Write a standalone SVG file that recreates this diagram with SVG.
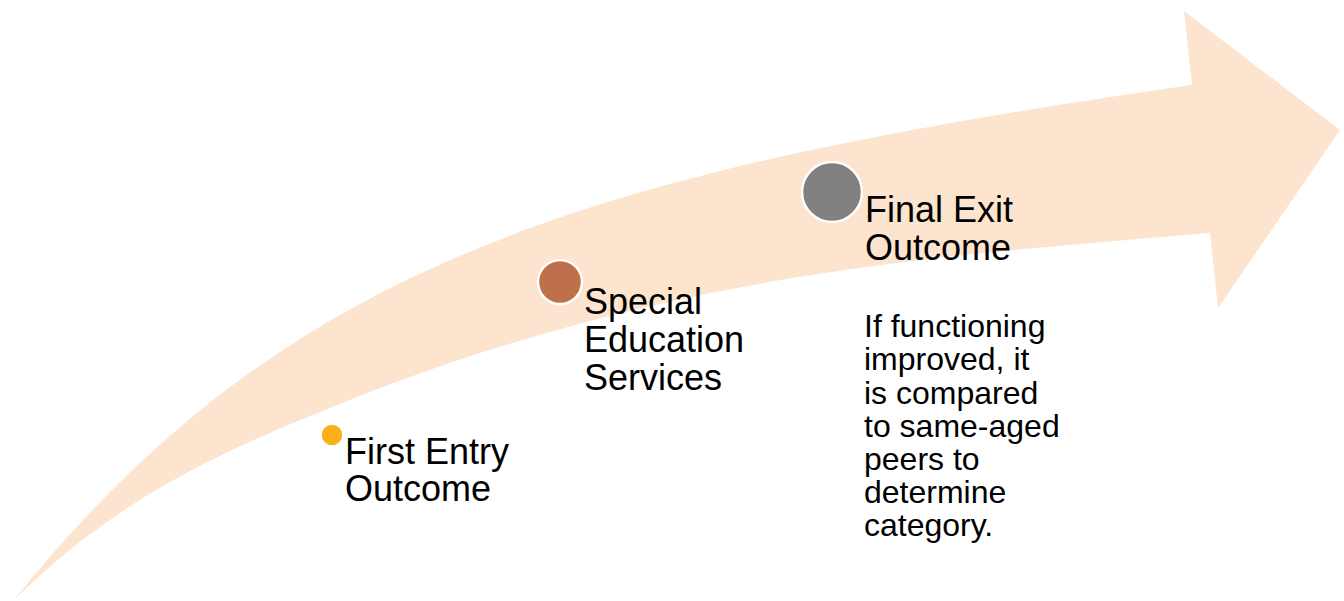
<svg xmlns="http://www.w3.org/2000/svg" width="1344" height="601" viewBox="0 0 1344 601">
  <style>
    .band { fill: #FCE4CE; }
    .dot { stroke: #FFFFFF; stroke-width: 2.5; }
    .label { font-family: "Liberation Sans", Arial, sans-serif; font-size: 36px; fill: #000000; }
    .note { font-family: "Liberation Sans", Arial, sans-serif; font-size: 32px; fill: #000000; }
  </style>
  <rect width="1344" height="601" fill="#FFFFFF"/>

  <!-- curved progress arrow -->
  <g id="connectors">
    <path class="band" d="M13,601
      C283,265 580,172.5 1192,85
      L1184,11 L1340,130 L1218,308 L1210,233
      C960,255 680,268 350,400
      C240,444 123.5,490.5 13,601 Z"/>
  </g>

  <g id="first-entry">
    <circle class="dot" cx="332" cy="435" r="11.5" fill="#FBB01B"/>
    <text class="label">
      <tspan x="345" y="464">First Entry</tspan>
      <tspan x="345" y="501">Outcome</tspan>
    </text>
  </g>

  <g id="special-education">
    <circle class="dot" cx="560" cy="282" r="22" fill="#BF704A"/>
    <text class="label">
      <tspan x="584" y="314">Special</tspan>
      <tspan x="584" y="352">Education</tspan>
      <tspan x="584" y="390">Services</tspan>
    </text>
  </g>

  <g id="final-exit">
    <circle class="dot" cx="832" cy="192" r="30" fill="#808080"/>
    <text class="label">
      <tspan x="865" y="222">Final Exit</tspan>
      <tspan x="865" y="260">Outcome</tspan>
    </text>
    <text class="note">
      <tspan x="864" y="337">If functioning</tspan>
      <tspan x="864" y="370">improved, it</tspan>
      <tspan x="864" y="403.5">is compared</tspan>
      <tspan x="864" y="436.5">to same-aged</tspan>
      <tspan x="864" y="470">peers to</tspan>
      <tspan x="864" y="503">determine</tspan>
      <tspan x="864" y="536">category.</tspan>
    </text>
  </g>
</svg>
